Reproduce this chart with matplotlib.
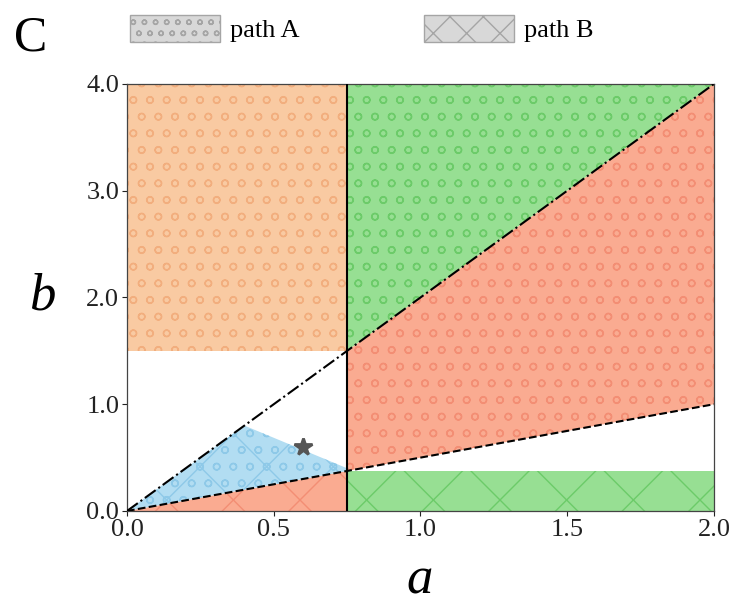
import matplotlib
matplotlib.use("Agg")
import matplotlib.pyplot as plt
from matplotlib.patches import Patch

# region boundaries
a_split = 0.75
orange_a = [0.0, 0.75, 0.75, 0.0]
orange_b = [1.5, 1.5, 4.0, 4.0]
green_top_a = [0.75, 0.75, 2.0]
green_top_b = [1.5, 4.0, 4.0]
salmon_mid_a = [0.75, 0.75, 2.0, 2.0]
salmon_mid_b = [0.375, 1.5, 4.0, 1.0]
salmon_low_a = [0.0, 0.75, 0.75]
salmon_low_b = [0.0, 0.375, 0.0]
green_low_a = [0.75, 2.0, 2.0, 0.75]
green_low_b = [0.0, 0.0, 0.375, 0.375]
blue_a = [0.0, 0.4, 0.75, 0.75]
blue_b = [0.0, 0.8, 0.4, 0.375]

# boundary lines
line_a = [0.0, 2.0]
dashdot_b = [0.0, 4.0]
dashed_b = [0.0, 1.0]
split_b = [0.0, 4.0]

star_a, star_b = 0.6, 0.6

x_ticks = [0.0, 0.5, 1.0, 1.5, 2.0]
y_ticks = [0.0, 1.0, 2.0, 3.0, 4.0]

plt.rcParams['font.family'] = ['Liberation Serif', 'DejaVu Serif']
plt.rcParams['hatch.linewidth'] = 0.5

# drawn at 200 dpi on a half-size canvas so the hatches come out at the right spacing
fig = plt.figure(figsize=(7.35 / 2, 6.04 / 2), dpi=200)
ax = fig.add_axes([0.1728, 0.154, 0.7986, 0.707])

def region(xs, ys, face, hatch_col, hatch):
	ax.fill(xs, ys, facecolor=face, edgecolor=hatch_col, hatch=hatch, linewidth=0, zorder=1)

region(orange_a, orange_b, '#F9CAA2', '#F2AE7E', 'oo')
region(green_top_a, green_top_b, '#97DF93', '#6CCB69', 'oo')
region(salmon_mid_a, salmon_mid_b, '#FAAB91', '#F38E74', 'oo')
region(salmon_low_a, salmon_low_b, '#FAAB91', '#F38E74', 'x')
region(green_low_a, green_low_b, '#97DF93', '#6CCB69', 'x')
region(blue_a, blue_b, '#B2DDF2', '#8EC9E8', 'xoo')

ax.plot([a_split, a_split], split_b, color='black', lw=0.75, zorder=3)
ax.plot(line_a, dashdot_b, color='black', lw=0.75, ls='-.', zorder=3)
ax.plot(line_a, dashed_b, color='black', lw=0.75, ls='--', zorder=3)
ax.plot(star_a, star_b, marker='*', color='#555555', markersize=6.5, ls='none', zorder=4)

ax.set_xlim(0, 2)
ax.set_ylim(0, 4)
ax.set_xticks(x_ticks)
ax.set_yticks(y_ticks)
ax.set_xticklabels([f"{v:.1f}" for v in x_ticks])
ax.set_yticklabels([f"{v:.1f}" for v in y_ticks])
ax.tick_params(direction='out', length=1.8, width=0.4, pad=1, labelsize=9.5, colors='#222222')
for s in ax.spines.values():
	s.set_linewidth(0.45)
	s.set_color('#444444')

fig.text(42 / 735, 1 - 297 / 604, 'b', fontsize=19, style='italic', ha='center', va='center')
fig.text(420 / 735, 1 - 580 / 604, 'a', fontsize=19, style='italic', ha='center', va='center')
fig.text(31 / 735, 1 - 38 / 604, 'C', fontsize=18, ha='center', va='center')

handles = [
	Patch(facecolor='#D8D8D8', edgecolor='#A5A5A5', hatch='ooo', lw=0.5, label='path A'),
	Patch(facecolor='#D8D8D8', edgecolor='#A5A5A5', hatch='xx', lw=0.5, label='path B'),
]
fig.legend(handles=handles, loc='upper left', bbox_to_anchor=(130 / 735, 1 - 15 / 604),
		   ncol=2, frameon=False, fontsize=9.5, handlelength=3.4, handleheight=1.2,
		   handletextpad=0.4, columnspacing=4.7, borderpad=0, borderaxespad=0)

fig.savefig('out.png', dpi=200)
